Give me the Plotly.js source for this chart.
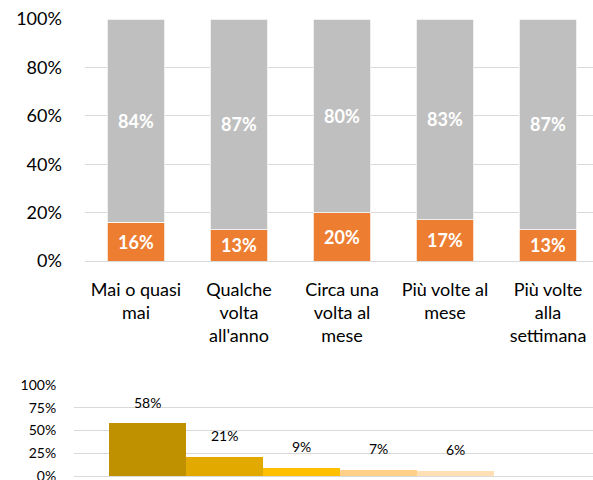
<!DOCTYPE html>
<html>
<head>
<meta charset="utf-8">
<script src="https://cdn.plot.ly/plotly-3.0.1.min.js"></script>
<style>
  body { margin: 0; padding: 0; background: #fff; }
  #chart { width: 593px; height: 480px; }
</style>
</head>
<body>
<div id="chart"></div>
<script>
// frequency categories (top chart)
var categories = ['Mai o quasi<br>mai', 'Qualche<br>volta<br>all\'anno', 'Circa una<br>volta al<br>mese', 'Più volte al<br>mese', 'Più volte<br>alla<br>settimana'];
var orangeValues = [16, 13, 20, 17, 13];
var grayValues = [84, 87, 80, 83, 87];
var topTickVals = [0, 20, 40, 60, 80, 100];
var topTickText = ['0%', '20%', '40%', '60%', '80%', '100%'];

// distribution (bottom chart)
var distCategories = ['a', 'b', 'c', 'd', 'e'];
var distValues = [58, 21, 9, 7, 6];
var distColors = ['#BF9000', '#E2AA00', '#FFC000', '#FFD088', '#FFDFB3'];
var bottomTickVals = [0, 25, 50, 75, 100];
var bottomTickText = ['0%', '25%', '50%', '75%', '100%'];

var font = 'Lato, "Open Sans", sans-serif';

function pct(v) { return v + '%'; }

var orangeTrace = {
  x: categories,
  y: orangeValues,
  text: orangeValues.map(pct),
  type: 'bar',
  marker: { color: '#ED7D31', line: { color: '#ffffff', width: 0.75 } },
  texttemplate: '%{text}',
  textposition: 'inside',
  insidetextanchor: 'middle',
  textfont: { color: '#ffffff', size: 18, family: font, weight: 'bold' },
  hoverinfo: 'none',
  xaxis: 'x',
  yaxis: 'y'
};

var grayTrace = {
  x: categories,
  y: grayValues,
  text: grayValues.map(pct),
  type: 'bar',
  marker: { color: '#BFBFBF', line: { color: '#ffffff', width: 0.75 } },
  texttemplate: '%{text}',
  textposition: 'inside',
  insidetextanchor: 'middle',
  textfont: { color: '#ffffff', size: 18, family: font, weight: 'bold' },
  hoverinfo: 'none',
  xaxis: 'x',
  yaxis: 'y'
};

var distTrace = {
  x: distCategories,
  y: distValues,
  type: 'bar',
  width: distValues.map(function () { return 1; }),
  marker: { color: distColors },
  hoverinfo: 'none',
  xaxis: 'x2',
  yaxis: 'y2'
};

var annotations = distValues.map(function (v, i) {
  return {
    x: distCategories[i],
    y: v,
    xref: 'x2',
    yref: 'y2',
    text: pct(v),
    showarrow: false,
    yanchor: 'middle',
    yshift: 21,
    font: { family: font, size: 14, color: '#000000' }
  };
});

var layout = {
  width: 593,
  height: 480,
  margin: { l: 0, r: 0, t: 0, b: 0 },
  paper_bgcolor: '#ffffff',
  plot_bgcolor: '#ffffff',
  showlegend: false,
  barmode: 'stack',
  bargap: 0.437,
  font: { family: font, color: '#000000' },
  xaxis: {
    domain: [84.5 / 593, 1],
    range: [-0.5, 4.437],
    type: 'category',
    showgrid: false,
    showline: false,
    zeroline: false,
    ticks: 'outside',
    ticklen: 12,
    tickcolor: 'rgba(0,0,0,0)',
    tickfont: { size: 18, family: font, color: '#000000' },
    anchor: 'y'
  },
  yaxis: {
    domain: [(480 - 261) / 480, (480 - 19) / 480],
    range: [0, 100],
    tickmode: 'array',
    tickvals: topTickVals,
    ticktext: topTickText,
    showgrid: true,
    gridcolor: '#D9D9D9',
    gridwidth: 1,
    zeroline: true,
    zerolinecolor: '#D9D9D9',
    zerolinewidth: 1,
    showline: false,
    ticks: 'outside',
    ticklen: 18,
    tickcolor: 'rgba(0,0,0,0)',
    ticklabeloverflow: 'allow',
    tickfont: { size: 18, family: font, color: '#000000' },
    anchor: 'x'
  },
  xaxis2: {
    domain: [74 / 593, 1],
    range: [-0.948, 5.79],
    type: 'category',
    showgrid: false,
    showline: false,
    zeroline: false,
    showticklabels: false,
    anchor: 'y2'
  },
  yaxis2: {
    domain: [4 / 480, 95 / 480],
    range: [0, 100],
    tickmode: 'array',
    tickvals: bottomTickVals,
    ticktext: bottomTickText,
    showgrid: true,
    gridcolor: '#D9D9D9',
    gridwidth: 1,
    zeroline: true,
    zerolinecolor: '#D9D9D9',
    zerolinewidth: 1,
    showline: false,
    ticks: 'outside',
    ticklen: 14,
    tickcolor: 'rgba(0,0,0,0)',
    ticklabeloverflow: 'allow',
    tickfont: { size: 14, family: font, color: '#000000' },
    anchor: 'x2'
  },
  annotations: annotations
};

Plotly.newPlot('chart', [orangeTrace, grayTrace, distTrace], layout, { displayModeBar: false, staticPlot: true });
</script>
</body>
</html>
